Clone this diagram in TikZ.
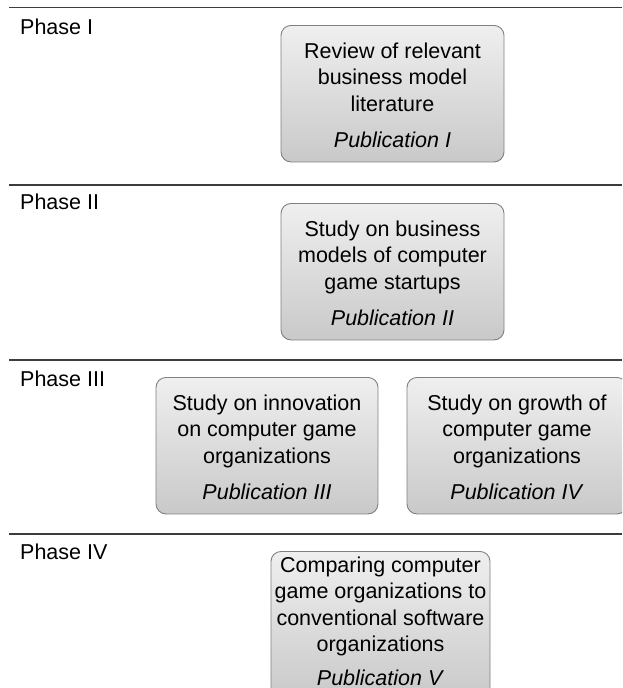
\documentclass[tikz,border=0pt]{standalone}
\usepackage{fontspec}
\setmainfont{Liberation Sans}

\definecolor{boxtop}{HTML}{EFEFEF}
\definecolor{boxbot}{HTML}{C9C9C9}
\definecolor{boxline}{HTML}{808080}
\definecolor{rulecol}{HTML}{3C3C3C}

\newcommand\boxfont{\fontsize{21.5}{26.5}\selectfont}
% struts fixing the first baseline and the space under the last line
\newcommand\firstline[1]{\rule{0pt}{#1}}
\newcommand\lastdepth{\rule[-14pt]{0pt}{14pt}}

\tikzset{
  pubbox/.style={draw=boxline, line width=0.9pt, rounded corners=10pt,
    top color=boxtop, bottom color=boxbot, align=center,
    inner xsep=0pt, inner ysep=0pt, anchor=north, font=\boxfont},
  phaselabel/.style={anchor=base west, inner sep=0pt, font=\boxfont},
  phaserule/.style={draw=rulecol, line width=1.3pt}
}

\begin{document}
\begin{tikzpicture}[x=1pt,y=-1pt]
  \useasboundingbox (0,0) rectangle (622,688);
  \clip (0,0) rectangle (622,688);

  % phase separators
  \draw[phaserule] (9,7.5) -- (622,7.5);
  \draw[phaserule] (9,185) -- (622,185);
  \draw[phaserule] (9,360) -- (622,360);
  \draw[phaserule] (9,534) -- (622,534);

  % phase labels
  \node[phaselabel] (ph1) at (20,34) {Phase I};
  \node[phaselabel] (ph2) at (20,209) {Phase II};
  \node[phaselabel] (ph3) at (20,386) {Phase III};
  \node[phaselabel] (ph4) at (20,559) {Phase IV};

  % publications
  \node[pubbox, minimum width=223pt] (pub1) at (392.5,25)
    {\firstline{33pt}Review of relevant\\business model\\literature\\[10pt]\textit{Publication I}\lastdepth};
  \node[pubbox, minimum width=223pt] (pub2) at (392.5,203)
    {\firstline{33pt}Study on business\\models of computer\\game startups\\[10pt]\textit{Publication II}\lastdepth};
  \node[pubbox, minimum width=222pt] (pub3) at (267,377)
    {\firstline{33pt}Study on innovation\\on computer game\\organizations\\[10pt]\textit{Publication III}\lastdepth};
  \node[pubbox, minimum width=220pt] (pub4) at (517,377)
    {\firstline{33pt}Study on growth of\\computer game\\organizations\\[10pt]\textit{Publication IV}\lastdepth};
  \node[pubbox, minimum width=219pt] (pub5) at (380.5,551)
    {\firstline{21pt}Comparing computer\\game organizations to\\conventional software\\organizations\\[7pt]\textit{Publication V}\lastdepth};
\end{tikzpicture}
\end{document}
